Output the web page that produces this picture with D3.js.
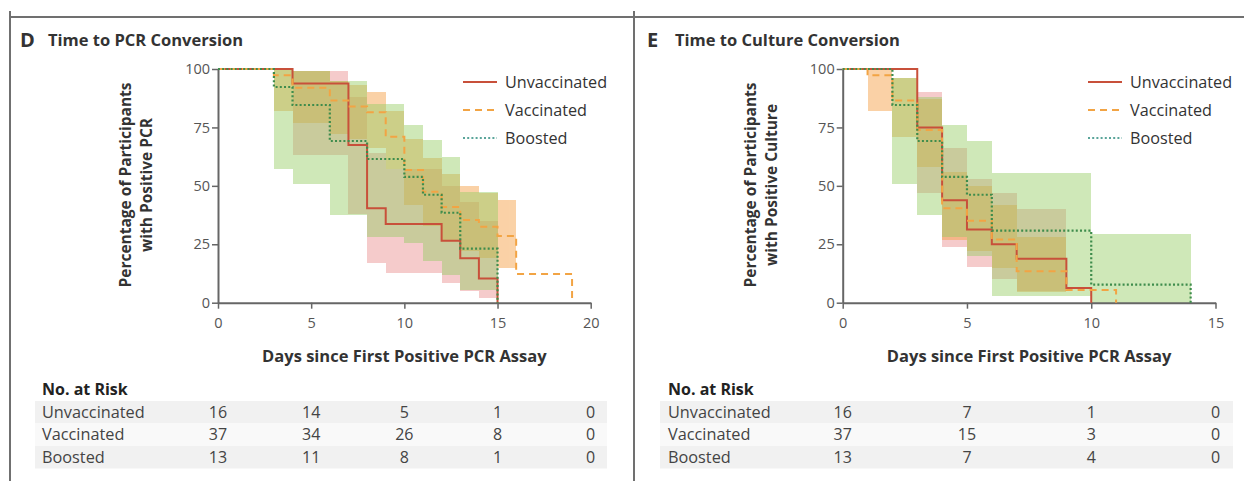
<!DOCTYPE html>
<html><head><meta charset="utf-8">
<script src="https://cdn.jsdelivr.net/npm/d3@7"></script>
<style>
body{margin:0;background:#fff;}
svg{display:block;font-family:"Open Sans",Lato,sans-serif;}
</style></head><body>
<svg id="c" width="1244" height="481"></svg>
<script>
// ---------- DATA ----------
const seriesNames = ["Unvaccinated", "Vaccinated", "Boosted"];
const xTicksPCR = [0, 5, 10, 15, 20];
const xTicksCulture = [0, 5, 10, 15];
const yTicks = [0, 25, 50, 75, 100];

// Panel D: Time to PCR Conversion (step times, survival %, CI per interval)
const pcrUnvaxT  = [0, 4, 7, 8, 9, 12, 13, 14, 15];
const pcrUnvaxS  = [100, 93.8, 67.5, 40.4, 33.7, 26.5, 19, 10.4, 0];
const pcrUnvaxLo = [null, 63, 38, 17, 12.6, 8.6, 5, 2];
const pcrUnvaxHi = [null, 99, 88, 64, 57, 50, 43, 35];

const pcrVaxT  = [0, 3, 4, 6, 7, 8, 9, 10, 11, 12, 13, 14, 15, 16, 19];
const pcrVaxS  = [100, 97.3, 92, 86.5, 84, 81.5, 71, 56.8, 47.5, 41, 35.4, 32.5, 28.5, 12.3, 0];
const pcrVaxLo = [null, 82, 77, 72, 70, 66, 57, 42, 33, 27, 22, 19, 15, null];
const pcrVaxHi = [null, 100, 99, 95, 93, 90, 82, 70, 62, 55, 50, 47, 44, null];

const pcrBoostT  = [0, 3, 4, 6, 8, 10, 11, 12, 13, 15];
const pcrBoostS  = [100, 92.3, 84.6, 69.2, 61.5, 53.8, 46.2, 38.5, 23.1, 0];
const pcrBoostLo = [null, 57, 51, 37.5, 28, 25.5, 18, 12, 5.5];
const pcrBoostHi = [null, 100, 99, 95, 85, 76, 69.6, 62.5, 47.5];

const pcrAtRisk = [[16, 14, 5, 1, 0], [37, 34, 26, 8, 0], [13, 11, 8, 1, 0]];

// Panel E: Time to Culture Conversion
const culUnvaxT  = [0, 3, 4, 5, 6, 7, 9, 10];
const culUnvaxS  = [100, 75, 43.8, 31.3, 25, 18.8, 6.3, 0];
const culUnvaxLo = [null, 47, 24, 15.4, 10, 5, null];
const culUnvaxHi = [null, 90, 66, 53, 47, 40, null];

const culVaxT  = [0, 1, 2, 3, 4, 5, 6, 7, 9, 11];
const culVaxS  = [100, 97.3, 86.5, 73.9, 40.4, 35.1, 27, 13.5, 5.4, 0];
const culVaxLo = [null, 82, 71, 58, 27, 22, 15, 4.7, null];
const culVaxHi = [null, 100, 96, 87, 56, 50, 42, 28, null];

const culBoostT  = [0, 2, 3, 4, 5, 6, 10, 14];
const culBoostS  = [100, 84.6, 69.2, 53.8, 46.2, 30.8, 7.7, 0];
const culBoostLo = [null, 51, 37.5, 28, 20, 3, 0];
const culBoostHi = [null, 96, 88, 76, 69.2, 55.4, 29.3];

const culAtRisk = [[16, 7, 1, 0], [37, 15, 3, 0], [13, 7, 4, 0]];

// ---------- STYLE ----------
const lineColors = ["#c8503a", "#f2a444", "#3e8c4c"];
const legendColors = ["#c8503a", "#f2a444", "#5aa59a"];
const bandColors = ["rgb(230,120,120)", "rgb(245,155,60)", "rgb(150,205,100)"];
const bandOpac = [0.38, 0.45, 0.45];
const dashes = [null, "7,5", "2,2.2"];
const textCol = "#333";

const svg = d3.select("#c");

// frame
svg.append("line").attr("x1", 10).attr("x2", 1244).attr("y1", 17).attr("y2", 17)
  .attr("stroke", "#707070").attr("stroke-width", 2);
svg.append("line").attr("x1", 10).attr("x2", 10).attr("y1", 11).attr("y2", 481)
  .attr("stroke", "#707070").attr("stroke-width", 2);
svg.append("line").attr("x1", 634).attr("x2", 634).attr("y1", 11).attr("y2", 481)
  .attr("stroke", "#707070").attr("stroke-width", 2);

const panels = [
  {
    letter: "D", title: "Time to PCR Conversion", lx: 20, tx: 48,
    ylab2: "with Positive PCR", ylx: 131,
    xDomain: [0, 20], xTicks: xTicksPCR, x0: 218, x1: 590.7,
    legX: 463, tableX0: 35, tableX1: 607, labX: 42,
    atRisk: pcrAtRisk,
    series: [
      {t: pcrUnvaxT, s: pcrUnvaxS, lo: pcrUnvaxLo, hi: pcrUnvaxHi},
      {t: pcrVaxT, s: pcrVaxS, lo: pcrVaxLo, hi: pcrVaxHi},
      {t: pcrBoostT, s: pcrBoostS, lo: pcrBoostLo, hi: pcrBoostHi}
    ]
  },
  {
    letter: "E", title: "Time to Culture Conversion", lx: 647, tx: 675,
    ylab2: "with Positive Culture", ylx: 756,
    xDomain: [0, 15], xTicks: xTicksCulture, x0: 842.7, x1: 1215.5,
    legX: 1088, tableX0: 660, tableX1: 1233, labX: 668,
    atRisk: culAtRisk,
    series: [
      {t: culUnvaxT, s: culUnvaxS, lo: culUnvaxLo, hi: culUnvaxHi},
      {t: culVaxT, s: culVaxS, lo: culVaxLo, hi: culVaxHi},
      {t: culBoostT, s: culBoostS, lo: culBoostLo, hi: culBoostHi}
    ]
  }
];

panels.forEach(p => {
  const x = d3.scaleLinear().domain(p.xDomain).range([p.x0, p.x1]);
  const y = d3.scaleLinear().domain([0, 100]).range([302.7, 69]);
  const g = svg.append("g");

  // title
  g.append("text").attr("x", p.lx).attr("y", 47).text(p.letter)
    .attr("font-size", 20).attr("font-weight", 700).attr("fill", textCol);
  g.append("text").attr("x", p.tx).attr("y", 46).text(p.title)
    .attr("font-size", 16.5).attr("font-weight", 700).attr("fill", textCol);

  // y label
  const yl = g.append("text").attr("transform", `translate(${p.ylx},185) rotate(-90)`)
    .attr("text-anchor", "middle").attr("font-size", 15.5).attr("font-weight", 700).attr("fill", textCol);
  yl.append("tspan").attr("x", 0).attr("y", 0).text("Percentage of Participants");
  yl.append("tspan").attr("x", 0).attr("y", 21).text(p.ylab2);

  // CI bands
  const bg = g.append("g");
  p.series.forEach((s, k) => {
    const sg = bg.append("g").attr("opacity", bandOpac[k]);
    s.lo.forEach((lo, i) => {
      if (lo == null) return;
      sg.append("rect")
        .attr("x", x(s.t[i])).attr("width", x(s.t[i + 1]) - x(s.t[i]))
        .attr("y", y(s.hi[i])).attr("height", y(lo) - y(s.hi[i]))
        .attr("fill", bandColors[k]).attr("shape-rendering", "crispEdges");
    });
  });

  // axes
  const ax = g.append("g").attr("transform", "translate(0,302.7)")
    .call(d3.axisBottom(x).tickValues(p.xTicks).tickSize(6).tickSizeOuter(0).tickPadding(5));
  const ay = g.append("g").attr("transform", `translate(${p.x0},0)`)
    .call(d3.axisLeft(y).tickValues(yTicks).tickSize(6).tickSizeOuter(0).tickPadding(2));
  [ax, ay].forEach(a => {
    a.select(".domain").attr("stroke", "#666").attr("stroke-width", 2);
    a.selectAll(".tick line").attr("stroke", "#666").attr("stroke-width", 1.5);
    a.selectAll(".tick text").attr("fill", "#555").attr("font-size", 14.5)
      .attr("font-family", "'Open Sans', sans-serif");
  });
  ax.selectAll(".tick text").attr("dy", "1em");

  // x label
  g.append("text").attr("x", (p.x0 + p.x1) / 2).attr("y", 362).attr("text-anchor", "middle")
    .attr("font-size", 16.5).attr("font-weight", 700).attr("fill", textCol)
    .text("Days since First Positive PCR Assay");

  // step lines
  const line = d3.line().x(d => x(d[0])).y(d => y(d[1])).curve(d3.curveStepAfter);
  p.series.forEach((s, k) => {
    const pts = s.t.map((t, i) => [t, s.s[i]]);
    g.append("path").attr("d", line(pts)).attr("fill", "none")
      .attr("stroke", lineColors[k]).attr("stroke-width", k === 2 ? 2.2 : 2)
      .attr("stroke-dasharray", dashes[k]);
  });

  // legend
  seriesNames.forEach((n, k) => {
    const ly = 82 + k * 28;
    g.append("line").attr("x1", p.legX).attr("x2", p.legX + 34).attr("y1", ly).attr("y2", ly)
      .attr("stroke", legendColors[k]).attr("stroke-width", 2).attr("stroke-dasharray", dashes[k]);
    g.append("text").attr("x", p.legX + 42).attr("y", ly + 5.5).text(n)
      .attr("font-size", 16.2).attr("fill", textCol);
  });

  // at-risk table
  g.append("text").attr("x", p.labX).attr("y", 395).text("No. at Risk")
    .attr("font-size", 16).attr("font-weight", 700).attr("fill", "#222");
  seriesNames.forEach((n, k) => {
    const ry = 401 + k * 22.5;
    g.append("rect").attr("x", p.tableX0).attr("width", p.tableX1 - p.tableX0)
      .attr("y", ry).attr("height", 22.5).attr("fill", k === 1 ? "#f9f9f9" : "#f1f1f1");
    g.append("text").attr("x", p.labX).attr("y", ry + 16.5).text(n)
      .attr("font-size", 16.3).attr("fill", "#444");
    p.atRisk[k].forEach((v, j) => {
      g.append("text").attr("x", x(p.xTicks[j])).attr("y", ry + 16.5).text(v)
        .attr("text-anchor", "middle").attr("font-size", 16).attr("fill", "#444");
    });
  });
});
</script>
</body></html>
